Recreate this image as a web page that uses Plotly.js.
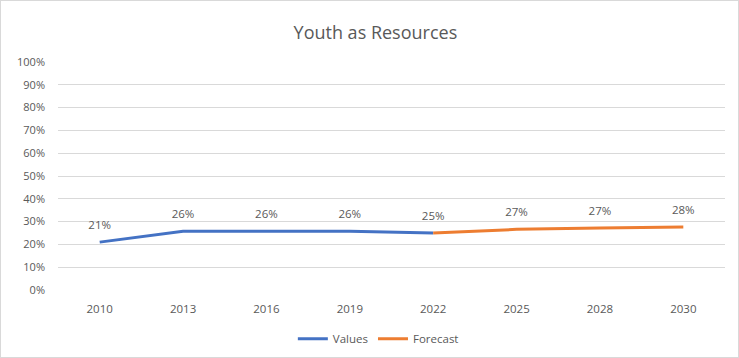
<!DOCTYPE html>
<html>
<head>
<meta charset="utf-8">
<script src="https://cdn.plot.ly/plotly-3.0.1.min.js"></script>
<style>
html,body{margin:0;padding:0;background:#fff;}
#chart{width:739px;height:358px;box-sizing:border-box;border:1px solid #d9d9d9;}
</style>
</head>
<body>
<div id="chart"></div>
<script>
const years = ['2010','2013','2016','2019','2022','2025','2028','2030'];
const valueYears = ['2010','2013','2016','2019','2022'];
const values = [0.21, 0.258, 0.258, 0.258, 0.25];
const forecastYears = ['2022','2025','2028','2030'];
const forecast = [0.25, 0.266, 0.272, 0.276];
const yTicks = [0,0.1,0.2,0.3,0.4,0.5,0.6,0.7,0.8,0.9,1.0];

const FAM = 'Open Sans, Liberation Sans, sans-serif';
const GREY = '#595959';

const valueText = values.map(v => Math.round(v*100)+'%');
const forecastText = forecast.map((v,i) => i === 0 ? '' : Math.round(v*100)+'%');
const labelFont = {family:FAM, size:11.5, color:GREY};

const data = [
  {x:valueYears, y:values, type:'scatter', mode:'lines', name:'Values', line:{color:'#4472C4', width:3}},
  {x:forecastYears, y:forecast, type:'scatter', mode:'lines', name:'Forecast', line:{color:'#ED7D31', width:3}},
  {x:valueYears, y:values, type:'scatter', mode:'markers+text', showlegend:false, hoverinfo:'skip',
   marker:{size:15, opacity:0}, text:valueText, textposition:'top center', textfont:labelFont, cliponaxis:false},
  {x:forecastYears, y:forecast, type:'scatter', mode:'markers+text', showlegend:false, hoverinfo:'skip',
   marker:{size:15, opacity:0}, text:forecastText, textposition:'top center', textfont:labelFont, cliponaxis:false}
];

const layout = {
  width:737, height:356,
  margin:{l:57, r:13, t:61, b:67},
  paper_bgcolor:'#fff', plot_bgcolor:'#fff',
  font:{family:FAM, size:11, color:GREY},
  title:{text:'Youth as Resources', x:0.508, xanchor:'center', y:0.91, yanchor:'middle', font:{family:FAM, size:18, color:GREY}},
  xaxis:{type:'category', categoryorder:'array', categoryarray:years, range:[-0.5,7.5], showgrid:false, zeroline:false, showline:false, ticks:'', tickfont:{family:FAM, size:11.5, color:GREY}, ticklabelstandoff:10, automargin:false},
  yaxis:{range:[0,1], tickvals:yTicks, tickformat:'.0%', showgrid:true, gridcolor:'#d9d9d9', gridwidth:1, zeroline:false, showline:false, ticks:'', tickfont:{family:FAM, size:11, color:GREY}, ticklabelstandoff:12, automargin:false},
  showlegend:true,
  legend:{orientation:'h', x:0.512, xanchor:'center', xref:'container', yref:'container', y:0.051, yanchor:'middle', font:{family:FAM, size:11.5, color:GREY}, itemwidth:30, tracegroupgap:0},
};

Plotly.newPlot('chart', data, layout, {displayModeBar:false, staticPlot:true});
</script>
</body>
</html>
